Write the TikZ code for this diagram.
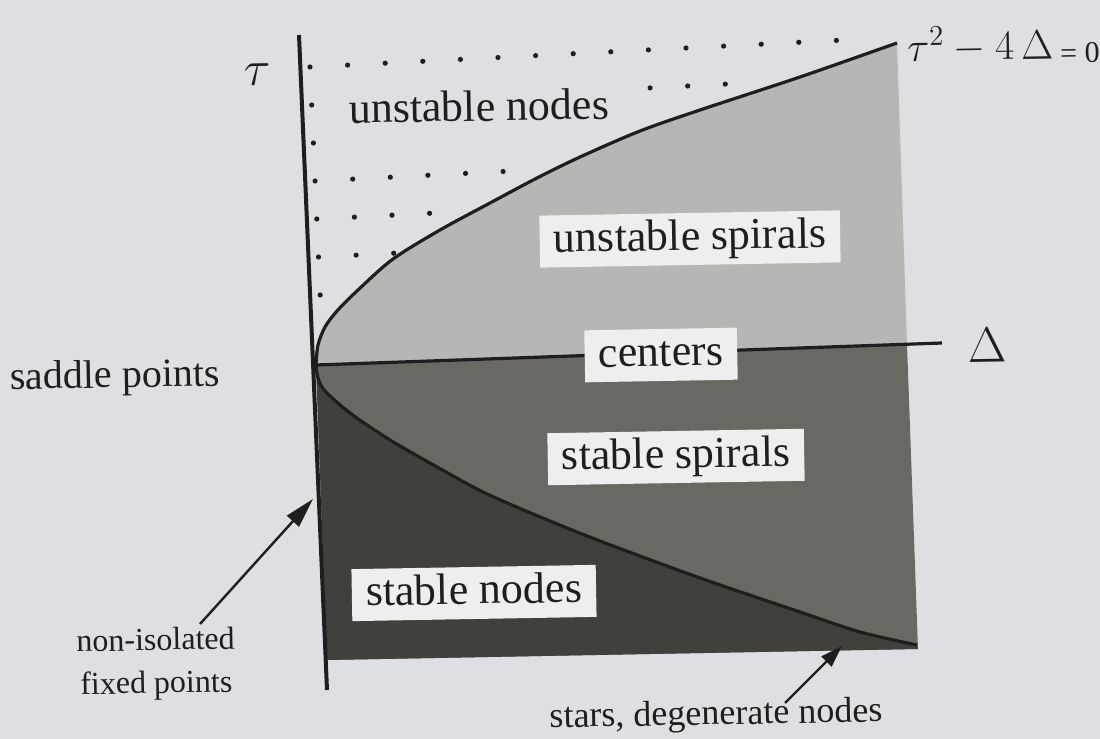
\documentclass[tikz,border=0pt]{standalone}
\usepackage{fontspec}
\setmainfont{Liberation Serif}
\usetikzlibrary{arrows.meta}
\definecolor{pagecol}{RGB}{222,223,226}
\definecolor{lightreg}{RGB}{182,182,180}
\definecolor{midreg}{RGB}{106,104,98}
\definecolor{darkreg}{RGB}{66,64,60}
\definecolor{boxcol}{RGB}{238,238,238}
\definecolor{ink}{RGB}{30,30,30}
\tikzset{
  axisline/.style={draw=ink,line width=2pt},
  curveline/.style={draw=ink,line width=1.6pt},
  region/.style={fill=boxcol,inner xsep=7pt,inner ysep=3pt,text height=15.5pt,text depth=4.5pt,text=ink,rotate=1,font=\fontsize{22}{26}\selectfont},
  plainlab/.style={text=ink,rotate=1},
  pointer/.style={draw=ink,line width=1.2pt,-{Triangle[length=15pt,width=8pt]}},
  dotmark/.style={fill=ink}
}
\begin{document}
\begin{tikzpicture}[x=0.5pt,y=-0.5pt]
\fill[pagecol] (0,0) rectangle (1100,739);
\useasboundingbox (0,0) rectangle (1100,739);
% key points
\coordinate (O) at (316,365);
\coordinate (tauTop) at (299,35);
\coordinate (tauBot) at (327,690);
\coordinate (DelEnd) at (942,343);
\coordinate (UR) at (897,43);
\coordinate (MR) at (907,344);
\coordinate (LR) at (917,645);
\coordinate (BR) at (918,649);
\coordinate (BL) at (327,660);
% dots of the unstable-node region
\foreach \i/\j in {0/0,1/0,2/0,3/0,4/0,5/0,6/0,7/0,8/0,9/0,10/0,11/0,12/0,13/0,14/0,
  0/1,9/1,10/1,11/1,0/2,0/3,1/3,2/3,3/3,4/3,5/3,0/4,1/4,2/4,3/4,0/5,1/5,2/5,0/6}
  \fill[dotmark] ({310+37.6*\i+1.7*\j},{67-1.9*\i+38*\j}) circle (1.3pt);
\node[region,fill=pagecol,inner ysep=6pt] (un) at (479,110) {unstable nodes};
% regions
\fill[midreg] (O) -- (MR) -- (BR) -- (BL) -- cycle;
\fill[darkreg] plot[smooth] coordinates {(316,365) (318,378) (325,391) (350,413) (390,440) (437,467) (483,492) (533,514) (600,541) (700,578) (800,612) (860,632) (917,645)} -- (BR) -- (BL) -- cycle;
\fill[lightreg] plot[smooth] coordinates {(316,365) (318,345) (325,327) (337,311) (358,290) (393,259) (440,230) (490,203) (537,178) (580,157) (640,131) (700,110) (800,77) (897,43)} -- (MR) -- cycle;
% curves
\draw[curveline] plot[smooth] coordinates {(316,365) (318,345) (325,327) (337,311) (358,290) (393,259) (440,230) (490,203) (537,178) (580,157) (640,131) (700,110) (800,77) (897,43)};
\draw[curveline] plot[smooth] coordinates {(316,365) (318,378) (325,391) (350,413) (390,440) (437,467) (483,492) (533,514) (600,541) (700,578) (800,612) (860,632) (917,645)};
% axes
\draw[axisline] (tauTop) -- (tauBot);
\draw[curveline] (O) -- (DelEnd);
% labels
\node[plainlab] (tau) at (258,75) {\fontsize{32}{36}\selectfont$\tau$};
\node[plainlab,anchor=west] (parab) at (900,47) {\fontsize{21}{25}\selectfont$\tau^2 - 4\,\Delta$\,{\fontsize{15}{18}\selectfont\raisebox{-0.15em}{= 0}}};
\node[plainlab] (delta) at (987,345) {\fontsize{28}{32}\selectfont$\Delta$};
\node[region] (us) at (690,239) {unstable spirals};
\node[region] (ce) at (661,355) {centers};
\node[region] (ss) at (676,457) {stable spirals};
\node[region] (sn) at (474,593) {stable nodes};
\node[plainlab,font=\fontsize{20}{24}\selectfont] (saddle) at (115,378) {saddle points};
\node[plainlab,align=center,font=\fontsize{16}{21.5}\selectfont] (noniso) at (156,664) {non-isolated\\fixed points};
\node[plainlab,font=\fontsize{18}{22}\selectfont] (stars) at (716,716) {stars, degenerate nodes};
% pointers
\coordinate (p1tail) at (200,624);
\coordinate (p1tip) at (313,499);
\coordinate (p2tail) at (785,703);
\coordinate (p2tip) at (842,646);
\draw[pointer] (p1tail) -- (p1tip);
\draw[pointer,-{Triangle[length=11pt,width=7pt]}] (p2tail) -- (p2tip);
\end{tikzpicture}
\end{document}
